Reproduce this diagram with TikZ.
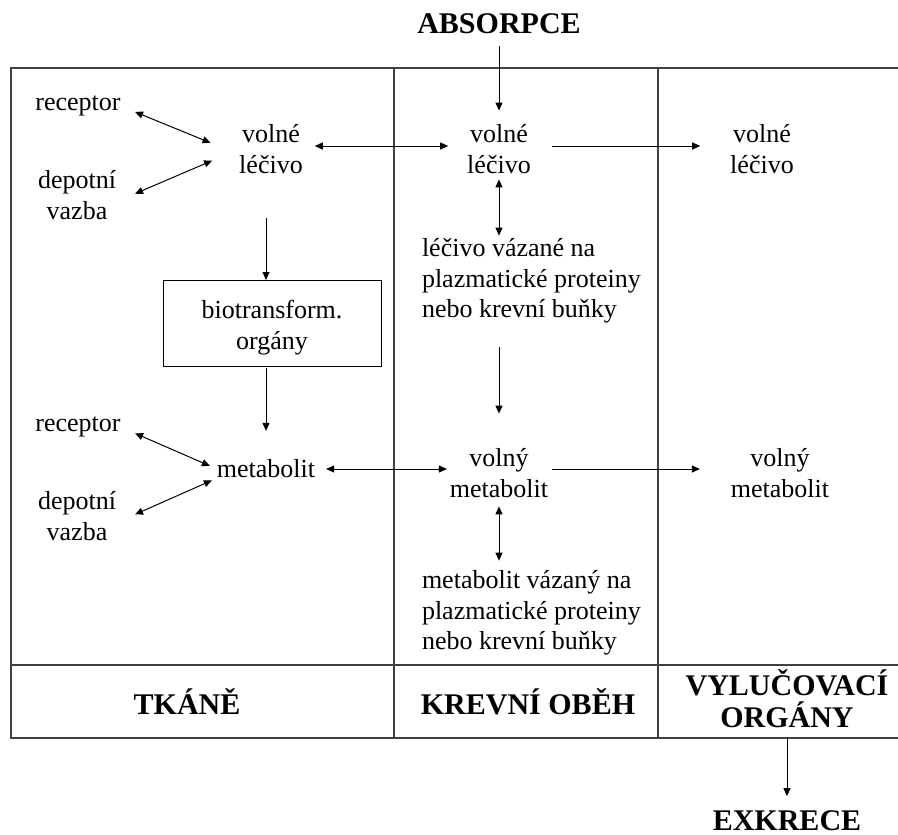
\documentclass[tikz,border=0pt]{standalone}
\usepackage{fontspec}
\setmainfont{Liberation Serif}
\usetikzlibrary{arrows.meta}

\begin{document}
\begin{tikzpicture}[x=1pt, y=-1pt]

\useasboundingbox (0, 0) rectangle (898, 835) ;

% frame

\def\frameleft{11}
\def\frameright{898}
\def\frametop{68}
\def\framerow{665}
\def\framebottom{738}
\def\colone{394}
\def\coltwo{658}

\tikzstyle{frame line} = [line width=1.3pt, color=black!75]

\draw [frame line] (\frameright, \frametop) -- (\frameleft, \frametop)
	-- (\frameleft, \framebottom) -- (\frameright, \framebottom) ;
\draw [frame line] (\frameleft, \framerow) -- (\frameright, \framerow) ;
\foreach \xcol in {\colone, \coltwo}
	\draw [frame line] (\xcol, \frametop) -- (\xcol, \framebottom) ;

% texts

\tikzstyle{plain text} = [inner sep=0pt, outer sep=0pt, align=center, font=\fontsize{26}{30.5}\selectfont]
\tikzstyle{bound text} = [plain text, align=left, anchor=west]
\tikzstyle{title text} = [inner sep=0pt, outer sep=0pt, align=center, font=\fontsize{30}{32}\selectfont\bfseries]

\node [title text, anchor=base] (absorpce) at (499, 33) {ABSORPCE} ;
\node [title text, anchor=base] (exkrece) at (787, 830) {EXKRECE} ;

\node [title text, anchor=base] (tkane) at (187, 714) {TKÁNĚ} ;
\node [title text, anchor=base] (krevni) at (528, 714) {KREVNÍ OBĚH} ;
\node [title text] (vylucovaci) at (787, 699) {VYLUČOVACÍ\\ORGÁNY} ;

% tissues
\node [plain text] (receptorA) at (78, 106) {receptor} ;
\node [plain text] (depotA) at (77, 195) {depotní\\vazba} ;
\node [plain text] (volneT) at (271, 149) {volné\\léčivo} ;
\node [plain text, draw, line width=1pt, minimum width=218pt, minimum height=86pt]
	(biotrans) at (272, 323) {\rule{0pt}{28pt}biotransform.\\orgány} ;
\node [plain text] (receptorB) at (78, 427) {receptor} ;
\node [plain text] (depotB) at (77, 516) {depotní\\vazba} ;
\node [plain text] (metabolitT) at (266, 469) {metabolit} ;

% blood
\node [plain text] (volneK) at (499, 149) {volné\\léčivo} ;
\node [bound text] (vazaneK) at (422, 281) {léčivo vázané na\\plazmatické proteiny\\nebo krevní buňky} ;
\node [plain text] (metabolitK) at (499, 473) {volný\\metabolit} ;
\node [bound text] (vazanyK) at (422, 613) {metabolit vázaný na\\plazmatické proteiny\\nebo krevní buňky} ;

% excretion organs
\node [plain text] (volneV) at (762, 149) {volné\\léčivo} ;
\node [plain text] (metabolitV) at (780, 473) {volný\\metabolit} ;

% arrows

\tikzstyle{flow arrow} = [line width=1pt, -{Triangle[length=8pt, width=7pt]}]
\tikzstyle{both arrow} = [line width=1pt, {Triangle[length=8pt, width=7pt]}-{Triangle[length=8pt, width=7pt]}]

\draw [flow arrow, shorten <=13pt, shorten >=14pt] (absorpce.south) -- (volneK.north) ;

\draw [both arrow, shorten <=15.6pt, shorten >=31pt] (receptorA.east) -- (volneT.190) ;
\draw [both arrow, shorten <=20.7pt, shorten >=29.5pt] (depotA.-10) -- (volneT.west) ;
\draw [both arrow, shorten <=12pt, shorten >=19pt] ([yshift=3pt]volneT.east) -- ([yshift=3pt]volneK.west) ;
\draw [flow arrow, shorten <=21pt, shorten >=30pt] ([yshift=3pt]volneK.east) -- ([yshift=3pt]volneV.west) ;
\draw [both arrow, shorten <=6pt, shorten >=3pt] (volneK.south) -- (volneK.south |- vazaneK.north) ;

\draw [flow arrow, shorten <=45pt] (metabolitT.north |- volneT.south) -- (metabolitT.north |- biotrans.north) ;
\draw [flow arrow, shorten <=2pt, shorten >=29pt] (metabolitT.north |- biotrans.south) -- (metabolitT.north) ;

\draw [flow arrow, shorten <=24pt, shorten >=35pt] (metabolitK.north |- vazaneK.south) -- (metabolitK.north) ;

\draw [both arrow, shorten <=15.8pt, shorten >=7.6pt] (receptorB.east) -- (metabolitT.west) ;
\draw [both arrow, shorten <=20.8pt, shorten >=5.5pt] (depotB.-10) -- (metabolitT.south west) ;
\draw [both arrow, shorten <=11pt, shorten >=3pt] (metabolitT.east) -- (metabolitT.east -| metabolitK.west) ;
\draw [flow arrow, shorten <=4pt, shorten >=31pt] (metabolitT.east -| metabolitK.east) -- (metabolitT.east -| metabolitV.west) ;
\draw [both arrow, shorten <=9pt, shorten >=10pt] (metabolitK.south) -- (metabolitK.south |- vazanyK.north) ;

\draw [flow arrow, shorten <=9pt, shorten >=14pt] (vylucovaci.south) -- (exkrece.north) ;

\end{tikzpicture}
\end{document}
